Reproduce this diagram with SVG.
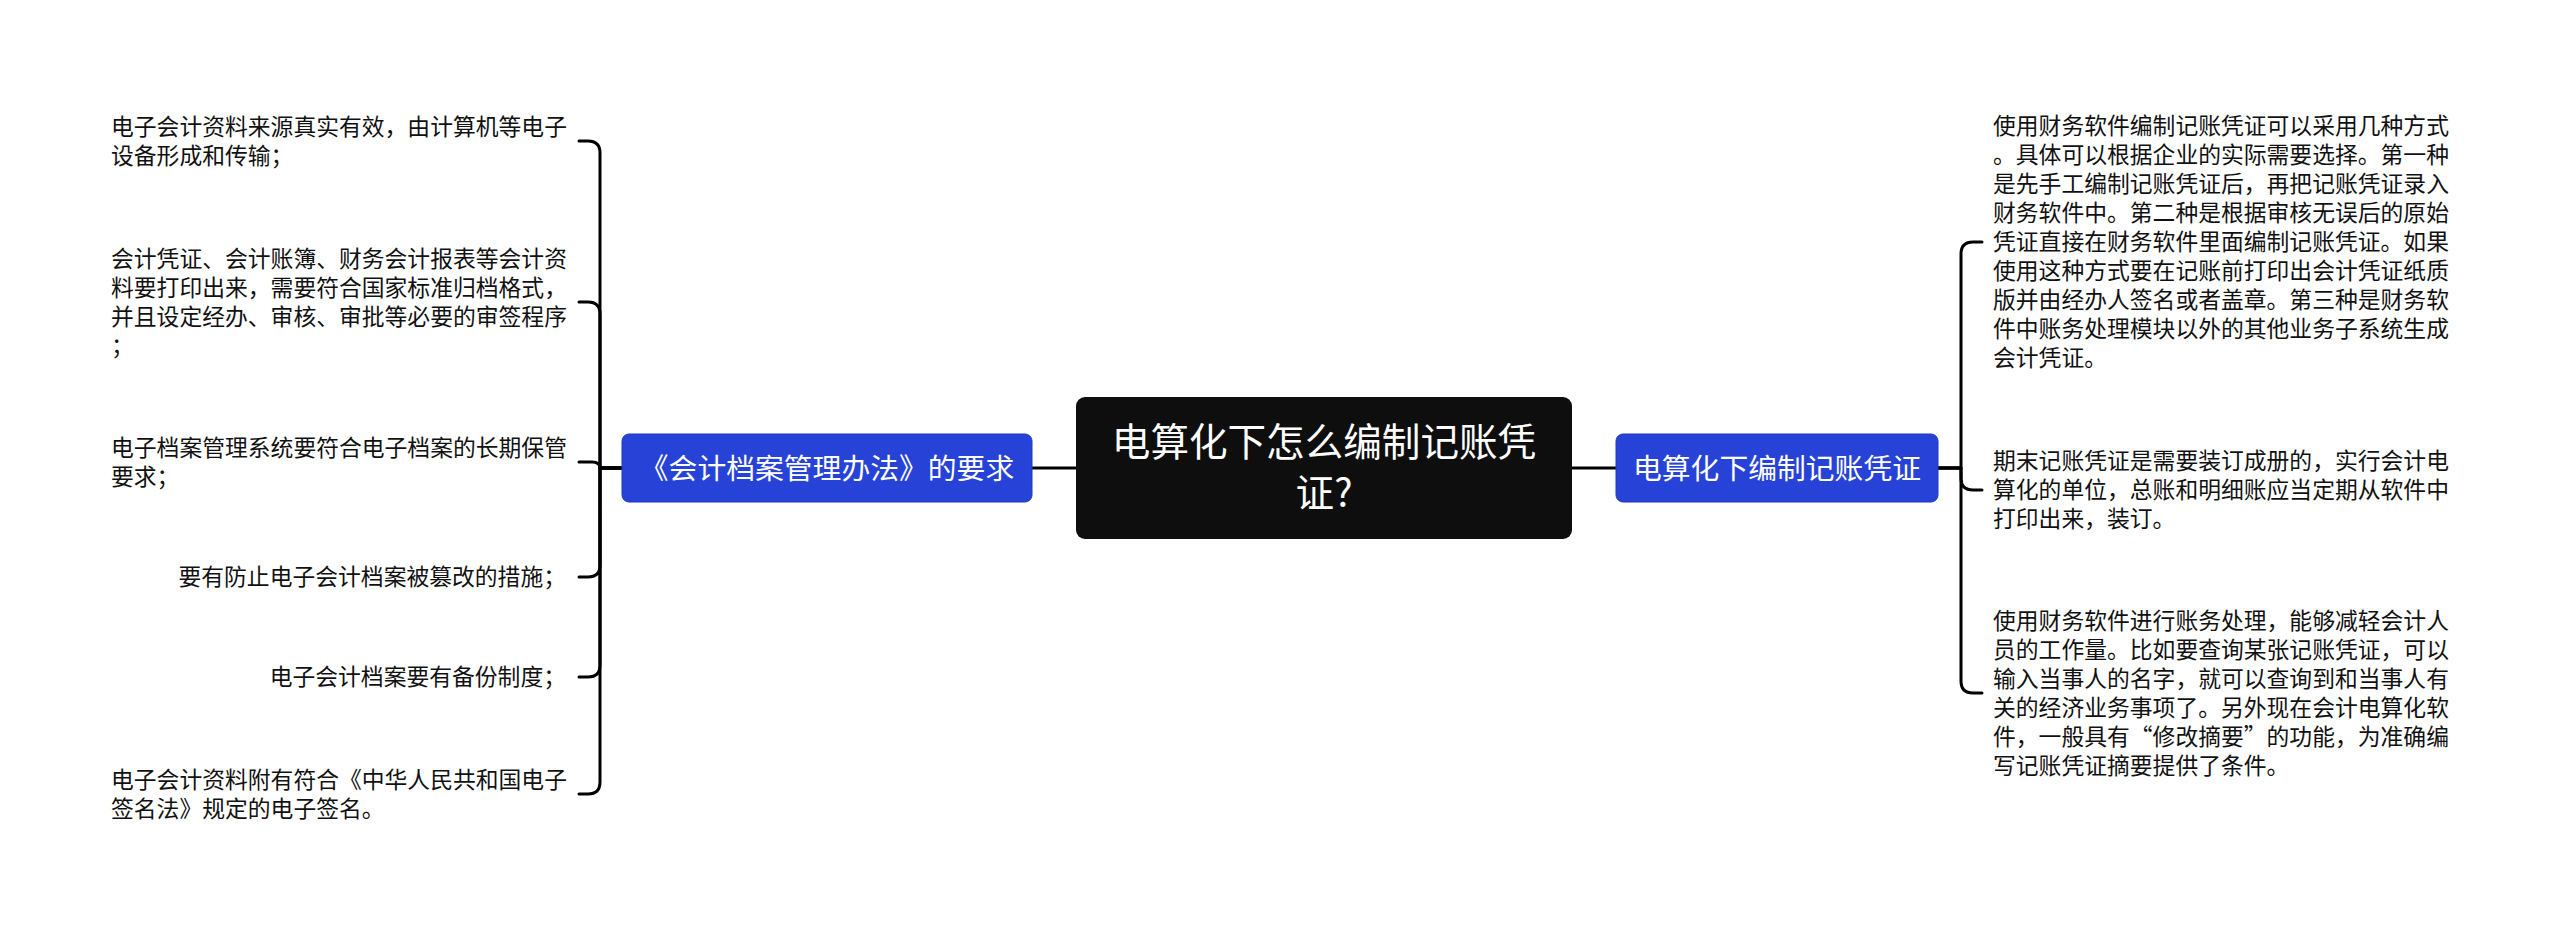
<svg xmlns="http://www.w3.org/2000/svg" width="2560" height="934" viewBox="0 0 2560 934">
<style>
.t{font-family:"Noto Sans CJK SC","Noto Sans",sans-serif;}
.leaf{font-size:22.8px;fill:#111;}
.br{font-size:28.8px;fill:#fff;}
.root{font-size:38.6px;fill:#fff;}
.c{fill:none;stroke:#000;stroke-width:3;stroke-linecap:round;stroke-linejoin:round;}
</style>
<rect width="2560" height="934" fill="#fff"/>
<g id="connectors">
<path class="c" d="M1076,468 L1032,468"/>
<path class="c" d="M1572,468 L1616,468"/>
<path class="c" d="M622,468 L600,468 L600,153 Q600,141 588,141 L579,141"/>
<path class="c" d="M622,468 L600,468 L600,314 Q600,302 588,302 L579,302"/>
<path class="c" d="M622,468 L600,468 Q600,462 592,462 L579,462"/>
<path class="c" d="M622,468 L600,468 L600,565 Q600,577 588,577 L579,577"/>
<path class="c" d="M622,468 L600,468 L600,665 Q600,677 588,677 L579,677"/>
<path class="c" d="M622,468 L600,468 L600,782 Q600,794 588,794 L579,794"/>
<path class="c" d="M1938,468 L1961,468 L1961,254 Q1961,242 1973,242 L1982,242"/>
<path class="c" d="M1938,468 L1961,468 L1961,478 Q1961,490 1973,490 L1982,490"/>
<path class="c" d="M1938,468 L1961,468 L1961,681 Q1961,693 1973,693 L1982,693"/>
</g>
<g id="root">
<rect x="1076" y="397" width="496" height="142" rx="9" fill="#0e0e0e"/>
<text class="t root" text-anchor="middle"><tspan x="1324" y="456">电算化下怎么编制记账凭</tspan><tspan x="1324" y="507">证?</tspan></text>
</g>
<g id="branch-left">
<rect x="622" y="434" width="410" height="68" rx="7" fill="#2743d7" stroke="#1f38c4" stroke-width="1"/>
<text class="t br" x="827" y="479" text-anchor="middle">《会计档案管理办法》的要求</text>
</g>
<g id="branch-right">
<rect x="1616" y="434" width="322" height="68" rx="7" fill="#2743d7" stroke="#1f38c4" stroke-width="1"/>
<text class="t br" x="1777" y="479" text-anchor="middle">电算化下编制记账凭证</text>
</g>
<g id="leaf-l1">
<text class="t leaf"><tspan x="111" y="135">电子会计资料来源真实有效，由计算机等电子</tspan><tspan x="111" y="164">设备形成和传输；</tspan></text>
</g>
<g id="leaf-l2">
<text class="t leaf"><tspan x="111" y="267">会计凭证、会计账簿、财务会计报表等会计资</tspan><tspan x="111" y="296">料要打印出来，需要符合国家标准归档格式，</tspan><tspan x="111" y="325">并且设定经办、审核、审批等必要的审签程序</tspan><tspan x="111" y="354">；</tspan></text>
</g>
<g id="leaf-l3">
<text class="t leaf"><tspan x="111" y="456">电子档案管理系统要符合电子档案的长期保管</tspan><tspan x="111" y="485">要求；</tspan></text>
</g>
<g id="leaf-l4">
<text class="t leaf" x="566" y="585" text-anchor="end">要有防止电子会计档案被篡改的措施；</text>
</g>
<g id="leaf-l5">
<text class="t leaf" x="566" y="685" text-anchor="end">电子会计档案要有备份制度；</text>
</g>
<g id="leaf-l6">
<text class="t leaf"><tspan x="111" y="788">电子会计资料附有符合《中华人民共和国电子</tspan><tspan x="111" y="817">签名法》规定的电子签名。</tspan></text>
</g>
<g id="leaf-r1">
<text class="t leaf"><tspan x="1993" y="134">使用财务软件编制记账凭证可以采用几种方式</tspan><tspan x="1993" y="163">。具体可以根据企业的实际需要选择。第一种</tspan><tspan x="1993" y="192">是先手工编制记账凭证后，再把记账凭证录入</tspan><tspan x="1993" y="221">财务软件中。第二种是根据审核无误后的原始</tspan><tspan x="1993" y="250">凭证直接在财务软件里面编制记账凭证。如果</tspan><tspan x="1993" y="279">使用这种方式要在记账前打印出会计凭证纸质</tspan><tspan x="1993" y="308">版并由经办人签名或者盖章。第三种是财务软</tspan><tspan x="1993" y="337">件中账务处理模块以外的其他业务子系统生成</tspan><tspan x="1993" y="366">会计凭证。</tspan></text>
</g>
<g id="leaf-r2">
<text class="t leaf"><tspan x="1993" y="469">期末记账凭证是需要装订成册的，实行会计电</tspan><tspan x="1993" y="498">算化的单位，总账和明细账应当定期从软件中</tspan><tspan x="1993" y="527">打印出来，装订。</tspan></text>
</g>
<g id="leaf-r3">
<text class="t leaf"><tspan x="1993" y="629">使用财务软件进行账务处理，能够减轻会计人</tspan><tspan x="1993" y="658">员的工作量。比如要查询某张记账凭证，可以</tspan><tspan x="1993" y="687">输入当事人的名字，就可以查询到和当事人有</tspan><tspan x="1993" y="716">关的经济业务事项了。另外现在会计电算化软</tspan><tspan x="1993" y="745">件，一般具有“修改摘要”的功能，为准确编</tspan><tspan x="1993" y="774">写记账凭证摘要提供了条件。</tspan></text>
</g>
</svg>
